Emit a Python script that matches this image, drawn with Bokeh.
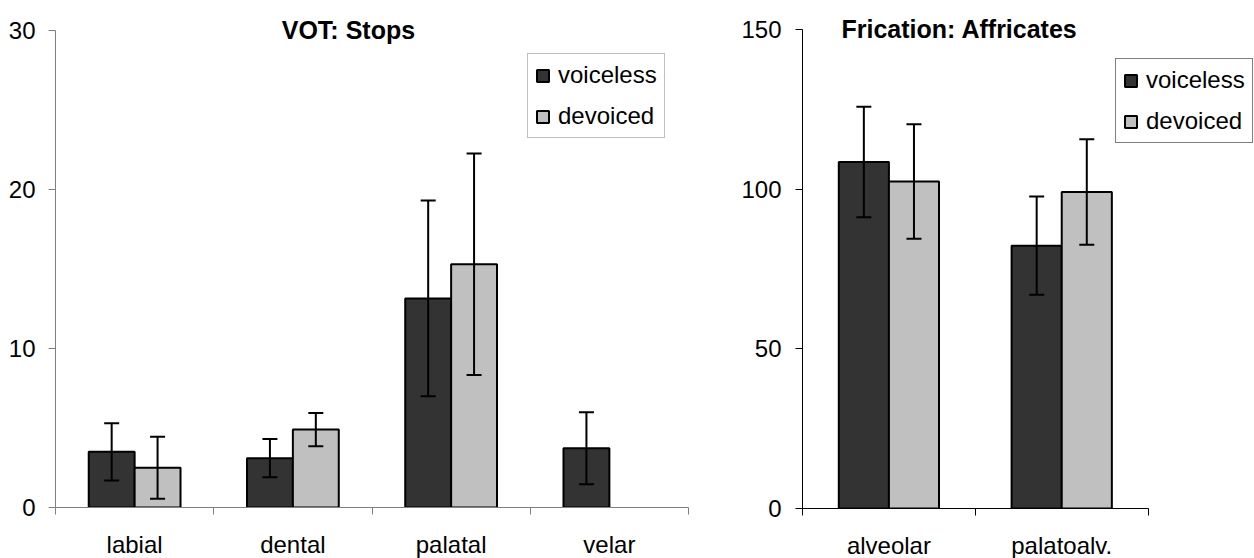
from bokeh.plotting import figure
from bokeh.models import (Range1d, FixedTicker, ColumnDataSource, Whisker,
                          TeeHead, Legend, LegendItem, Label)
from bokeh.layouts import row
from bokeh.embed import file_html
from bokeh.resources import INLINE

# ---------------- data ----------------
stop_places = ["labial", "dental", "palatal", "velar"]
stop_voiceless = [3.5, 3.1, 13.15, 3.73]
stop_voiceless_err = [1.8, 1.2, 6.15, 2.26]
stop_devoiced = [2.5, 4.9, 15.3, None]
stop_devoiced_err = [1.95, 1.05, 6.97, None]

affr_places = ["alveolar", "palatoalv."]
affr_voiceless = [108.5, 82.3]
affr_voiceless_err = [17.3, 15.4]
affr_devoiced = [102.4, 99.1]
affr_devoiced_err = [17.9, 16.5]

series_names = ["voiceless", "devoiced"]
series_colors = ["#333333", "#c0c0c0"]

FONT = "Liberation Sans"
BAR_W = 0.29


def make_chart(title, cats, vals, errs, ymax, yticks, axis_color, legend_color,
               border_left, frame_w, border_right, border_top, frame_h, border_bottom,
               x_end, y_end, title_x, legend_loc, y_standoff):
    n = len(cats)
    p = figure(frame_width=frame_w, frame_height=frame_h,
               min_border_left=border_left, min_border_right=border_right,
               min_border_top=border_top, min_border_bottom=border_bottom,
               x_range=Range1d(0, x_end), y_range=Range1d(0, y_end),
               output_backend="svg", toolbar_location=None, tools="")
    p.outline_line_color = None
    p.xgrid.visible = False
    p.ygrid.visible = False
    p.background_fill_color = "white"
    p.border_fill_color = "white"

    offsets = [-BAR_W / 2, BAR_W / 2]
    renderers = []
    for s, (v, e) in enumerate(zip(vals, errs)):
        xs, tops, ups, lows = [], [], [], []
        for i in range(n):
            if v[i] is None:
                continue
            xs.append(i + 0.5 + offsets[s])
            tops.append(v[i])
            ups.append(v[i] + e[i])
            lows.append(v[i] - e[i])
        src = ColumnDataSource(dict(x=xs, top=tops, upper=ups, lower=lows))
        r = p.vbar(x="x", top="top", bottom=0, width=BAR_W, source=src,
                   fill_color=series_colors[s], line_color="black", line_width=2)
        renderers.append(r)
        w = Whisker(base="x", upper="upper", lower="lower", source=src,
                    line_color="black", line_width=2, level="annotation",
                    upper_head=TeeHead(size=15, line_color="black", line_width=2),
                    lower_head=TeeHead(size=15, line_color="black", line_width=2))
        p.add_layout(w)

    # y axis
    ya = p.yaxis[0]
    ya.ticker = FixedTicker(ticks=yticks)
    ya.bounds = (0, ymax)
    ya.minor_tick_line_color = None
    ya.major_tick_in = 0
    ya.major_tick_out = 7
    ya.axis_line_color = axis_color
    ya.major_tick_line_color = axis_color
    ya.major_label_text_font = FONT
    ya.major_label_text_font_size = "24px"
    ya.major_label_text_color = "black"
    ya.major_label_standoff = y_standoff

    # x axis: names at category centres, tick marks at category boundaries
    xa = p.xaxis[0]
    xa.ticker = FixedTicker(ticks=[i + 0.5 for i in range(n)],
                            minor_ticks=list(range(n + 1)))
    xa.major_label_overrides = {i + 0.5: c for i, c in enumerate(cats)}
    xa.bounds = (0, n)
    xa.axis_line_color = axis_color
    xa.major_tick_line_color = None
    xa.major_tick_in = 0
    xa.major_tick_out = 0
    xa.minor_tick_line_color = axis_color
    xa.minor_tick_in = 0
    xa.minor_tick_out = 7
    xa.major_label_text_font = FONT
    xa.major_label_text_font_size = "24px"
    xa.major_label_text_color = "black"
    xa.major_label_standoff = 16

    legend = Legend(items=[LegendItem(label=series_names[k], renderers=[renderers[k]])
                           for k in range(len(renderers))],
                    location=legend_loc)
    legend.label_text_font = FONT
    legend.label_text_font_size = "24px"
    legend.label_text_color = "black"
    legend.label_height = 24
    legend.glyph_width = 15
    legend.glyph_height = 15
    legend.label_standoff = 8
    legend.spacing = 13
    legend.padding = 7
    legend.margin = 0
    legend.border_line_color = legend_color
    legend.border_line_width = 1
    legend.background_fill_alpha = 1
    p.add_layout(legend)

    t = Label(x=title_x, y=ymax, text=title, text_font=FONT, text_font_size="25px",
              text_font_style="bold", text_align="center", text_baseline="alphabetic",
              text_color="black")
    p.add_layout(t)
    return p


p1 = make_chart("VOT: Stops", stop_places,
                [stop_voiceless, stop_devoiced], [stop_voiceless_err, stop_devoiced_err],
                30, [0, 10, 20, 30], "#808080", "#808080",
                55, 633, 50, 5, 502, 51, 4, 31.57, 1.851, (472, 369), 13)
p2 = make_chart("Frication: Affricates", affr_places,
                [affr_voiceless, affr_devoiced], [affr_voiceless_err, affr_devoiced_err],
                150, [0, 50, 100, 150], "black", "black",
                62, 454, 0, 5, 503, 50, 2.627, 157.5, 0.909, (313, 365), 14)

layout = row(p1, p2)
open("out.html", "w").write(file_html(layout, INLINE))
